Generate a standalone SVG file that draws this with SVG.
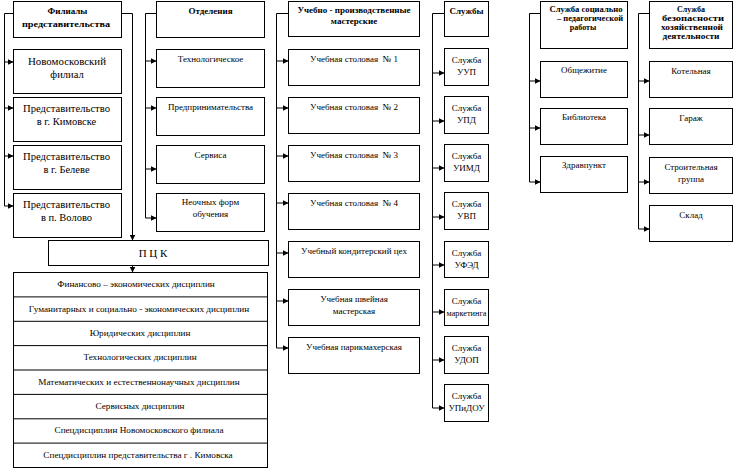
<svg xmlns="http://www.w3.org/2000/svg" width="734" height="470" viewBox="0 0 734 470" font-family="Liberation Serif, Times New Roman, serif">
<defs>
<marker id="ah" markerUnits="userSpaceOnUse" markerWidth="6" markerHeight="6" refX="6" refY="3" orient="auto">
<path d="M0,0 L6,3 L0,6 z" fill="#000"/>
</marker>
<style>
rect{fill:#fff;stroke:#000;stroke-width:1}
.c path{fill:none;stroke:#000;stroke-width:1}
.a{marker-end:url(#ah)}
text{font-family:"Liberation Serif","Times New Roman",serif;fill:#000;text-anchor:middle}
.h{font-weight:bold;font-size:9px}
.s{font-size:9px}
.m{font-size:10.5px}
.t{font-size:8px;font-weight:bold}
.l{font-size:9.2px}
</style>
</defs>
<rect x="0" y="0" width="734" height="470" style="fill:#fff;stroke:none"/>
<g class="c" id="connectors">
<path d="M13.5 13.5 H4.5 V206"/>
<path class="a" d="M4.5 62 H13.5"/>
<path class="a" d="M4.5 108 H13.5"/>
<path class="a" d="M4.5 156 H13.5"/>
<path class="a" d="M4.5 206 H13.5"/>
<path class="a" d="M121.5 13.5 H132.5 V240.5"/>
<path class="a" d="M132.5 265.5 V272.5"/>
<path d="M156.5 13.5 H145.5 V218"/>
<path class="a" d="M145.5 61 H156.5"/>
<path class="a" d="M145.5 108 H156.5"/>
<path class="a" d="M145.5 169 H156.5"/>
<path class="a" d="M145.5 218 H156.5"/>
<path d="M288.5 13.5 H276.5 V348"/>
<path class="a" d="M276.5 61 H288.5"/>
<path class="a" d="M276.5 108 H288.5"/>
<path class="a" d="M276.5 156 H288.5"/>
<path class="a" d="M276.5 203 H288.5"/>
<path class="a" d="M276.5 253 H288.5"/>
<path class="a" d="M276.5 301 H288.5"/>
<path class="a" d="M276.5 348 H288.5"/>
<path d="M444.5 13.5 H432.5 V408"/>
<path class="a" d="M432.5 73 H444.5"/>
<path class="a" d="M432.5 121 H444.5"/>
<path class="a" d="M432.5 168 H444.5"/>
<path class="a" d="M432.5 217 H444.5"/>
<path class="a" d="M432.5 265 H444.5"/>
<path class="a" d="M432.5 312 H444.5"/>
<path class="a" d="M432.5 360 H444.5"/>
<path class="a" d="M432.5 408 H444.5"/>
<path d="M540.5 13.5 H529.5 V182"/>
<path class="a" d="M529.5 81 H540.5"/>
<path class="a" d="M529.5 128 H540.5"/>
<path class="a" d="M529.5 182 H540.5"/>
<path d="M649.5 13.5 H638.5 V229"/>
<path class="a" d="M638.5 81 H649.5"/>
<path class="a" d="M638.5 135 H649.5"/>
<path class="a" d="M638.5 182 H649.5"/>
<path class="a" d="M638.5 229 H649.5"/>
</g>
<g id="n-filialy"><rect x="13.5" y="1.5" width="108" height="36"/><text class="h" x="67.5" y="14">Филиалы</text><text class="h" x="66" y="27" textLength="88" lengthAdjust="spacingAndGlyphs">представительства</text></g>
<g id="n-novomosk"><rect x="13.5" y="49.5" width="108" height="44"/><text class="m" x="67" y="65" textLength="78" lengthAdjust="spacingAndGlyphs">Новомосковский</text><text class="m" x="67" y="78">филиал</text></g>
<g id="n-kimovsk"><rect x="13.5" y="97.5" width="108" height="44"/><text class="m" x="66.5" y="112" textLength="87" lengthAdjust="spacingAndGlyphs">Представительство</text><text class="m" x="66.5" y="125">в г. Кимовске</text></g>
<g id="n-belev"><rect x="13.5" y="145.5" width="108" height="44"/><text class="m" x="66.5" y="160" textLength="87" lengthAdjust="spacingAndGlyphs">Представительство</text><text class="m" x="66.5" y="173">в г. Белеве</text></g>
<g id="n-volovo"><rect x="13.5" y="193.5" width="108" height="44"/><text class="m" x="66.5" y="208" textLength="87" lengthAdjust="spacingAndGlyphs">Представительство</text><text class="m" x="66.5" y="221">в п. Волово</text></g>

<g id="n-otdel"><rect x="156.5" y="1.5" width="108" height="36"/><text class="h" x="210.5" y="14">Отделения</text></g>
<g id="n-tekhn"><rect x="156.5" y="49.5" width="108" height="38"/><text class="s" x="210.5" y="62">Технологическое</text></g>
<g id="n-predpr"><rect x="156.5" y="97.5" width="108" height="38"/><text class="s" x="210.5" y="110">Предпринимательства</text></g>
<g id="n-servis"><rect x="156.5" y="145.5" width="108" height="38"/><text class="s" x="210.5" y="158">Сервиса</text></g>
<g id="n-neoch"><rect x="156.5" y="193.5" width="108" height="38"/><text class="s" x="210.5" y="205">Неочных форм</text><text class="s" x="210.5" y="217">обучения</text></g>

<g id="n-masterskie"><rect x="288.5" y="1.5" width="131" height="35"/><text class="h" x="354" y="13">Учебно - производственные</text><text class="h" x="354" y="24">мастерские</text></g>
<g id="n-st1"><rect x="288.5" y="49.5" width="131" height="36"/><text class="s" x="354" y="62">Учебная столовая&#160; № 1</text></g>
<g id="n-st2"><rect x="288.5" y="97.5" width="131" height="36"/><text class="s" x="354" y="110">Учебная столовая&#160; № 2</text></g>
<g id="n-st3"><rect x="288.5" y="145.5" width="131" height="36"/><text class="s" x="354" y="158">Учебная столовая&#160; № 3</text></g>
<g id="n-st4"><rect x="288.5" y="193.5" width="131" height="36"/><text class="s" x="354" y="206">Учебная столовая&#160; № 4</text></g>
<g id="n-kond"><rect x="288.5" y="241.5" width="131" height="36"/><text class="s" x="354" y="254">Учебный кондитерский цех</text></g>
<g id="n-shvein"><rect x="288.5" y="289.5" width="131" height="36"/><text class="s" x="354" y="302">Учебная швейная</text><text class="s" x="354" y="314">мастерская</text></g>
<g id="n-parikm"><rect x="288.5" y="337.5" width="131" height="36"/><text class="s" x="354" y="350">Учебная парикмахерская</text></g>

<g id="n-sluzhby"><rect x="444.5" y="1.5" width="44" height="35"/><text class="h" x="466.5" y="14">Службы</text></g>
<g id="n-uup"><rect x="444.5" y="48.5" width="44" height="37"/><text class="s" x="466.5" y="63">Служба</text><text class="s" x="466.5" y="75">УУП</text></g>
<g id="n-upd"><rect x="444.5" y="96.5" width="44" height="37"/><text class="s" x="466.5" y="111">Служба</text><text class="s" x="466.5" y="123">УПД</text></g>
<g id="n-uimd"><rect x="444.5" y="144.5" width="44" height="37"/><text class="s" x="466.5" y="159">Служба</text><text class="s" x="466.5" y="171">УИМД</text></g>
<g id="n-uvp"><rect x="444.5" y="192.5" width="44" height="37"/><text class="s" x="466.5" y="207">Служба</text><text class="s" x="466.5" y="219">УВП</text></g>
<g id="n-ufed"><rect x="444.5" y="241.5" width="44" height="36"/><text class="s" x="466.5" y="256">Служба</text><text class="s" x="466.5" y="268">УФЭД</text></g>
<g id="n-market"><rect x="444.5" y="289.5" width="44" height="36"/><text class="s" x="466.5" y="304">Служба</text><text class="s" x="466.5" y="316" textLength="40" lengthAdjust="spacingAndGlyphs">маркетинга</text></g>
<g id="n-udop"><rect x="444.5" y="336.5" width="44" height="37"/><text class="s" x="466.5" y="351">Служба</text><text class="s" x="466.5" y="363">УДОП</text></g>
<g id="n-upidou"><rect x="444.5" y="384.5" width="44" height="37"/><text class="s" x="466.5" y="399">Служба</text><text class="s" x="466.5" y="411">УПиДОУ</text></g>

<g id="n-socped"><rect x="540.5" y="1.5" width="87" height="47"/><text class="t" x="586" y="12" textLength="73" lengthAdjust="spacingAndGlyphs">Служба социально</text><text class="t" x="590" y="21" textLength="66" lengthAdjust="spacingAndGlyphs">– педагогической</text><text class="t" x="583" y="30">работы</text></g>
<g id="n-obshch"><rect x="540.5" y="61.5" width="87" height="36"/><text class="s" x="584" y="73">Общежитие</text></g>
<g id="n-bibl"><rect x="540.5" y="108.5" width="87" height="36"/><text class="s" x="584" y="120">Библиотека</text></g>
<g id="n-zdrav"><rect x="540.5" y="156.5" width="87" height="36"/><text class="s" x="584" y="168">Здравпункт</text></g>

<g id="n-bezop"><rect x="649.5" y="1.5" width="83" height="47"/><text class="t" x="691" y="12">Служба</text><text class="t" x="693" y="21" textLength="62" lengthAdjust="spacingAndGlyphs">безопасности</text><text class="t" x="692" y="30" textLength="62" lengthAdjust="spacingAndGlyphs">хозяйственной</text><text class="t" x="691" y="39" textLength="57" lengthAdjust="spacingAndGlyphs">деятельности</text></g>
<g id="n-kotel"><rect x="649.5" y="61.5" width="83" height="36"/><text class="s" x="691" y="74">Котельная</text></g>
<g id="n-garazh"><rect x="649.5" y="108.5" width="83" height="36"/><text class="s" x="691" y="121">Гараж</text></g>
<g id="n-stroit"><rect x="649.5" y="157.5" width="83" height="36"/><text class="s" x="691" y="170">Строительная</text><text class="s" x="691" y="182">группа</text></g>
<g id="n-sklad"><rect x="649.5" y="205.5" width="83" height="36"/><text class="s" x="691" y="218">Склад</text></g>

<g id="n-pck"><rect x="48.5" y="240.5" width="220" height="25"/><text x="153" y="257" style="font-size:11px">П Ц К</text></g>
<g id="n-pck-list"><rect x="13.5" y="272.5" width="254" height="195"/>
<path d="M13.5 296.9 H267.5 M13.5 321.3 H267.5 M13.5 345.6 H267.5 M13.5 370 H267.5 M13.5 394.4 H267.5 M13.5 418.8 H267.5 M13.5 443.1 H267.5" stroke="#000" fill="none"/>
<text class="l" x="136" y="287">Финансово – экономических дисциплин</text>
<text class="l" x="139" y="312">Гуманитарных и социально - экономических дисциплин</text>
<text class="l" x="140" y="336">Юридических дисциплин</text>
<text class="l" x="140" y="360">Технологических дисциплин</text>
<text class="l" x="139" y="385">Математических и естественнонаучных дисциплин</text>
<text class="l" x="140" y="409">Сервисных дисциплин</text>
<text class="l" x="139" y="433">Спецдисциплин Новомосковского филиала</text>
<text class="l" x="138" y="458">Спецдисциплин представительства г . Кимовска</text>
</g>
</svg>
